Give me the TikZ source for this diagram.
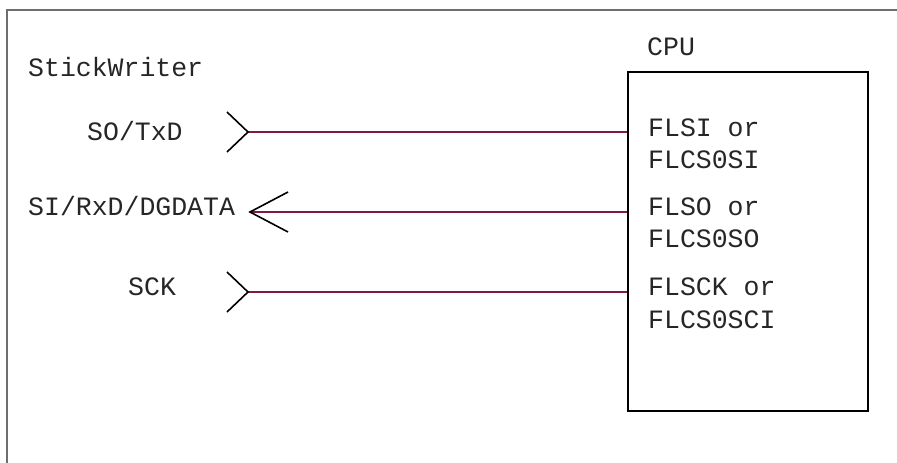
\documentclass[tikz,border=0pt]{standalone}
\usepackage{fontspec}
\setmonofont{Liberation Mono}
\usetikzlibrary{calc}
\begin{document}
\begin{tikzpicture}[x=1pt,y=-1pt,
  lbl/.style={inner sep=0pt,anchor=base west,text=black!85,font=\ttfamily\fontsize{26.5}{32}\selectfont},
  sig/.style={draw={rgb,255:red,128;green,24;blue,72},line width=1.8pt},
  barb/.style={draw=black,line width=1.6pt},
  frame/.style={draw=black!57,line width=2pt},
  chip/.style={draw=black,line width=1.8pt,minimum width=240pt,minimum height=339pt,inner sep=0pt}]
\useasboundingbox (0,0) rectangle (897,463);
\fill[white] (0,0) rectangle (897,463);
\draw[frame] (7,463) -- (7,10) -- (897,10);
% CPU box
\node[chip,anchor=north west] (cpu) at (627,71) {};
\node[lbl] (cpulbl) at (647,55) {CPU};
\node[lbl] (sw) at (28,76) {StickWriter};
% signal labels
\node[lbl] (so) at (87,140) {SO/TxD};
\node[lbl] (si) at (28,215) {SI/RxD/DGDATA};
\node[lbl] (sck) at (128,295) {SCK};
% pins
\node[lbl] (p1a) at (648,136) {FLSI or};
\node[lbl] (p1b) at (648,168) {FLCS0SI};
\node[lbl] (p2a) at (648,215) {FLSO or};
\node[lbl] (p2b) at (648,247) {FLCS0SO};
\node[lbl] (p3a) at (648,295) {FLSCK or};
\node[lbl] (p3b) at (648,328) {FLCS0SCI};
% tips
\coordinate (t1) at (248,132);
\coordinate (t2) at (250,212);
\coordinate (t3) at (248,292);
\draw[sig] (t1) -- (cpu.west |- t1);
\draw[sig] (t2) -- (cpu.west |- t2);
\draw[sig] (t3) -- (cpu.west |- t3);
\draw[barb] ($(t1)+(-21,-20)$) -- (t1) -- ($(t1)+(-21,20)$);
\draw[barb] ($(t2)+(38,-20)$) -- (t2) -- ($(t2)+(38,20)$);
\draw[barb] ($(t3)+(-21,-20)$) -- (t3) -- ($(t3)+(-21,20)$);
\end{tikzpicture}
\end{document}
